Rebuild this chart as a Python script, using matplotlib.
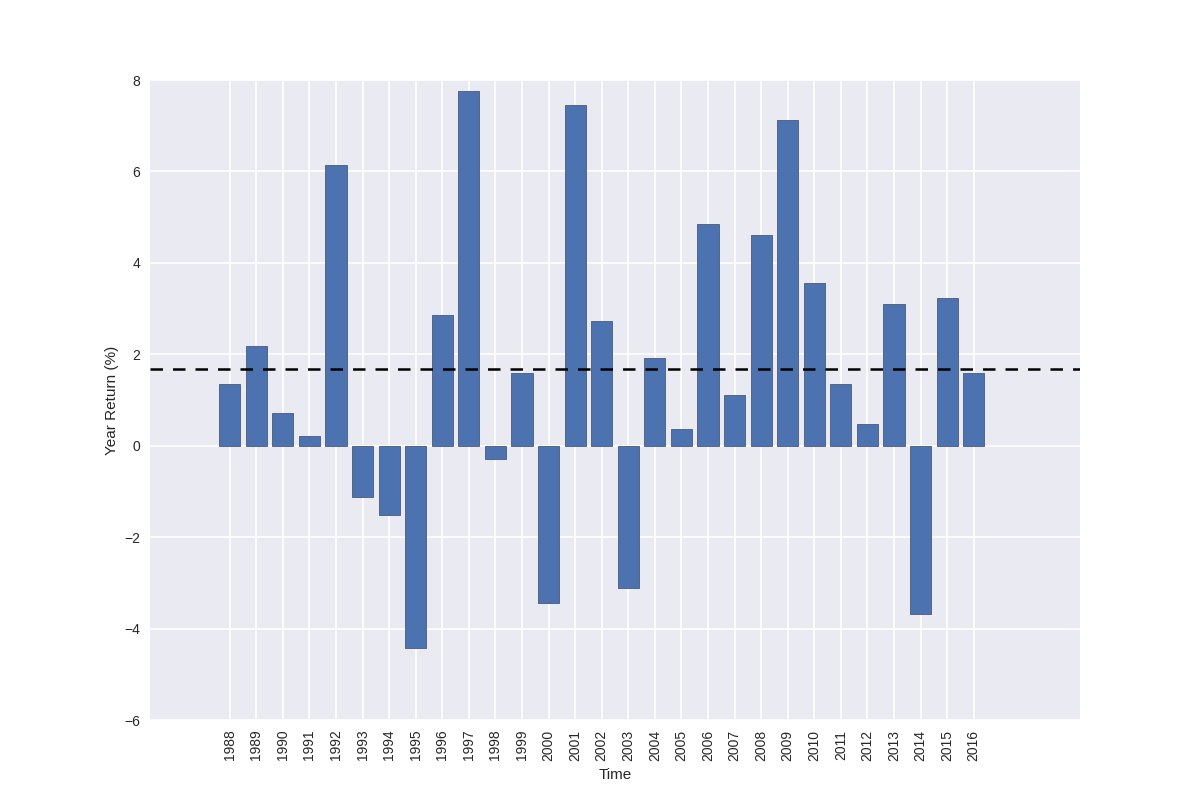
import numpy as np
import matplotlib
matplotlib.use('Agg')
import matplotlib.pyplot as plt

years = list(range(1988, 2017))
returns = [1.34, 2.19, 0.72, 0.22, 6.13, -1.12, -1.51, -4.43, 2.87, 7.76,
           -0.28, 1.60, -3.44, 7.45, 2.72, -3.11, 1.91, 0.37, 4.84, 1.12,
           4.62, 7.12, 3.55, 1.34, 0.48, 3.09, -3.68, 3.24, 1.58]
mean_return = np.mean(returns)

plt.rcParams['font.family'] = ['Liberation Sans', 'DejaVu Sans']

fig = plt.figure(figsize=(12, 8), dpi=100)
fig.subplots_adjust(left=0.125, right=0.9, top=0.9, bottom=0.1)
ax = fig.add_subplot(111)
ax.set_facecolor('#EAEAF2')
for s in ax.spines.values():
    s.set_visible(False)
ax.grid(True, color='white', linewidth=1.2)
ax.set_axisbelow(True)

ax.bar(years, returns, width=0.8, color='#4C72B0', edgecolor='#4a5a78', linewidth=0.6)
ax.axhline(mean_return, color='black', linestyle='--', linewidth=1.8, dashes=(5, 4))

ax.set_xlim(1985, 2020)
ax.set_ylim(-6, 8)
ax.set_xticks(years)
ax.set_xticklabels([str(y) for y in years], rotation=90)
ax.tick_params(axis='both', length=0, labelsize=10, colors='#262626', pad=7)
ax.set_xlabel('Time', fontsize=11, color='#262626', labelpad=5)
ax.set_ylabel('Year Return (%)', fontsize=11, color='#262626')

plt.savefig('out.png', dpi=100)
